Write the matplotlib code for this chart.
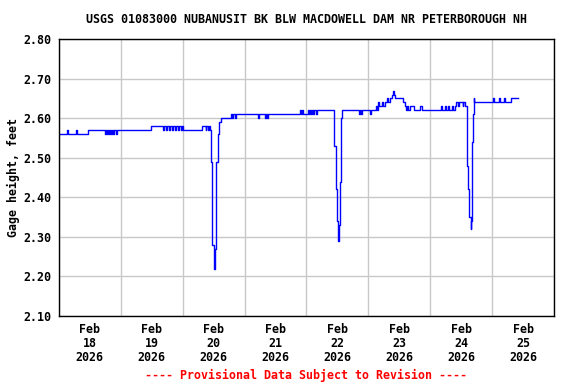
import matplotlib
matplotlib.use("Agg")
import matplotlib.pyplot as plt
import numpy as np

# hours since Feb 18 2026 00:00, gage height (ft), drawn as steps
hours = [
    0, 3.2, 3.5, 6.7, 7.0, 11.4,
    17.9, 18.2, 18.6, 18.9, 19.5, 19.8, 20.3, 20.6, 21.2, 21.5, 22.1, 22.4,
    35.6,
    40.5, 40.9, 41.6, 42.0, 42.8, 43.1, 43.9, 44.3, 45.0, 45.5, 46.2, 46.6, 47.4, 47.8, 48.3,
    55.4, 56.9, 57.2, 57.8, 58.1, 58.6,
    58.9, 59.5, 60.1, 60.6, 61.1, 61.8, 62.2, 63.0,
    66.7, 67.2, 67.6, 68.4, 68.8,
    77.4, 77.7, 79.9, 80.2, 80.8, 81.1,
    93.5, 93.8, 94.3, 94.6, 96.5, 97.0, 97.3, 97.8, 98.1, 98.7, 99.0, 99.6, 100.0,
    106.7, 107.4, 107.8, 108.1, 108.4, 108.6, 109.0, 109.4, 109.9,
    116.4, 116.7, 117.1, 117.4, 120.6, 121.0,
    123.0, 123.3, 123.6, 123.9, 124.2, 124.6, 125.2, 125.6, 126.5, 127.2, 127.6,
    128.4, 129.0, 129.7, 130.1, 130.4,
    133.3, 134.2, 134.6, 134.9, 135.5, 136.0, 137.5,
    140.1, 140.7,
    148.2, 148.5, 149.6, 150.0, 151.0, 151.4, 152.4, 152.8, 153.6, 154.0, 154.6, 155.0,
    156.5, 156.8, 157.6,
    158.2, 158.6, 159.1, 159.6, 159.9, 160.1, 160.4, 160.8, 161.0,
    168.5, 168.8, 170.8, 171.1, 172.6, 172.9, 175.3, 177.9,
]
gage = [
    2.56, 2.57, 2.56, 2.57, 2.56, 2.57,
    2.56, 2.57, 2.56, 2.57, 2.56, 2.57, 2.56, 2.57, 2.56, 2.57, 2.56, 2.57,
    2.58,
    2.57, 2.58, 2.57, 2.58, 2.57, 2.58, 2.57, 2.58, 2.57, 2.58, 2.57, 2.58, 2.57, 2.58, 2.57,
    2.58, 2.57, 2.58, 2.57, 2.58, 2.57,
    2.49, 2.28, 2.22, 2.27, 2.49, 2.56, 2.59, 2.60,
    2.61, 2.60, 2.61, 2.60, 2.61,
    2.60, 2.61, 2.60, 2.61, 2.60, 2.61,
    2.62, 2.61, 2.62, 2.61, 2.62, 2.61, 2.62, 2.61, 2.62, 2.61, 2.62, 2.61, 2.62,
    2.53, 2.42, 2.34, 2.32, 2.29, 2.33, 2.44, 2.60, 2.62,
    2.61, 2.62, 2.61, 2.62, 2.61, 2.62,
    2.63, 2.62, 2.63, 2.64, 2.63, 2.63, 2.64, 2.63, 2.64, 2.65, 2.64,
    2.65, 2.66, 2.67, 2.66, 2.65,
    2.64, 2.63, 2.62, 2.63, 2.62, 2.63, 2.62,
    2.63, 2.62,
    2.63, 2.62, 2.63, 2.62, 2.63, 2.62, 2.63, 2.62, 2.63, 2.64, 2.63, 2.64,
    2.63, 2.64, 2.63,
    2.48, 2.42, 2.35, 2.32, 2.34, 2.54, 2.61, 2.65, 2.64,
    2.65, 2.64, 2.65, 2.64, 2.65, 2.64, 2.65, 2.65,
]

day_labels = ["Feb\n18\n2026", "Feb\n19\n2026", "Feb\n20\n2026", "Feb\n21\n2026",
              "Feb\n22\n2026", "Feb\n23\n2026", "Feb\n24\n2026", "Feb\n25\n2026"]
y_ticks = [2.10, 2.20, 2.30, 2.40, 2.50, 2.60, 2.70, 2.80]

font = "DejaVu Sans Mono"
fs = 8.4

fig = plt.figure(figsize=(5.76, 3.84), dpi=100)
ax = fig.add_axes([0.102, 0.177, 0.86, 0.721])

ax.plot(hours, gage, color="#0000ff", linewidth=1.0, drawstyle="steps-post")

ax.set_xlim(0, 192)
ax.set_ylim(2.10, 2.80)

ax.set_xticks(np.arange(0, 193, 24))
ax.set_xticklabels([])
ax.set_xticks(np.arange(12, 192, 24), minor=True)
ax.set_xticklabels(day_labels, minor=True, fontfamily=font, fontweight="bold",
                   fontsize=fs, linespacing=1.1)
ax.set_yticks(y_ticks)
ax.set_yticklabels([f"{v:.2f}" for v in y_ticks], fontfamily=font,
                   fontweight="bold", fontsize=fs)
ax.tick_params(axis="both", which="both", length=0)
ax.tick_params(axis="x", which="minor", pad=5)
ax.tick_params(axis="y", pad=5)

ax.grid(True, which="major", color="#c8c8c8", linewidth=1.0)
ax.set_axisbelow(True)
for s in ax.spines.values():
    s.set_color("black")
    s.set_linewidth(1.0)

fig.text(0.532, 0.95, "USGS 01083000 NUBANUSIT BK BLW MACDOWELL DAM NR PETERBOROUGH NH",
         ha="center", va="center", fontfamily=font, fontweight="bold", fontsize=fs)
fig.text(0.023, 0.537, "Gage height, feet", rotation=90, ha="center", va="center",
         fontfamily=font, fontweight="bold", fontsize=fs)
fig.text(0.532, 0.023, "---- Provisional Data Subject to Revision ----",
         ha="center", va="center", color="red", fontfamily=font,
         fontweight="bold", fontsize=fs)

fig.savefig("out.png", dpi=100)
